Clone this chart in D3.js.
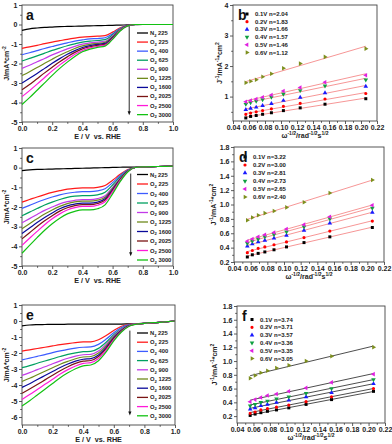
<!DOCTYPE html>
<html>
<head>
<meta charset="utf-8">
<script src="https://cdn.jsdelivr.net/npm/d3@7"></script>
<style>
  body { margin: 0; background: #fff; }
  svg { display: block; font-family: "Liberation Sans", Arial, sans-serif; }
</style>
</head>
<body>
<svg id="chart" width="392" height="444"></svg>
<script>
// ---------- data ----------
// potential grid (V vs. RHE) shared by the LSV curves
const E = [0, 0.05, 0.1, 0.15, 0.2, 0.25, 0.3, 0.35, 0.4, 0.45, 0.5, 0.55, 0.6, 0.65, 0.7, 0.75, 0.8, 0.9, 1.0]

const gases = ['N', 'O', 'O', 'O', 'O', 'O', 'O', 'O', 'O', 'O']
const speeds = ['225', '225', '400', '625', '900', '1225', '1600', '2025', '2500', '3000']
const lsvColors = ['#000000', '#ff1a1a', '#3d5cff', '#00a060', '#c23ae8', '#6f8a1c', '#0a0a9a', '#7a1414', '#ff1ad9', '#12c212']

// panel a: N2 225, O2 225 ... O2 3000 (mA cm-2)
const curvesA = [
  [-0.30, -0.22, -0.18, -0.15, -0.13, -0.11, -0.10, -0.09, -0.08, -0.07, -0.06, -0.05, -0.04, -0.03, -0.02, -0.01, 0, 0, 0],
  [-1.22, -1.15, -1.07, -0.98, -0.90, -0.83, -0.76, -0.70, -0.65, -0.62, -0.60, -0.57, -0.39, -0.17, -0.04, 0, 0, 0, 0],
  [-1.55, -1.45, -1.34, -1.23, -1.13, -1.03, -0.94, -0.85, -0.79, -0.74, -0.72, -0.68, -0.47, -0.20, -0.04, 0, 0, 0, 0],
  [-1.87, -1.74, -1.61, -1.47, -1.33, -1.21, -1.09, -0.99, -0.90, -0.85, -0.82, -0.78, -0.53, -0.23, -0.05, 0, 0, 0, 0],
  [-2.25, -2.09, -1.91, -1.74, -1.56, -1.40, -1.25, -1.12, -1.01, -0.94, -0.90, -0.86, -0.59, -0.25, -0.05, 0, 0, 0, 0],
  [-2.62, -2.42, -2.21, -1.99, -1.78, -1.58, -1.40, -1.23, -1.10, -1.02, -0.97, -0.92, -0.63, -0.27, -0.06, 0, 0, 0, 0],
  [-3.00, -2.76, -2.51, -2.25, -1.99, -1.75, -1.53, -1.34, -1.18, -1.08, -1.02, -0.97, -0.66, -0.29, -0.06, 0, 0, 0, 0],
  [-3.35, -3.08, -2.78, -2.48, -2.19, -1.91, -1.66, -1.43, -1.25, -1.14, -1.07, -1.02, -0.70, -0.30, -0.06, 0, 0, 0, 0],
  [-3.70, -3.39, -3.06, -2.72, -2.38, -2.07, -1.79, -1.53, -1.33, -1.20, -1.12, -1.06, -0.73, -0.31, -0.07, 0, 0, 0, 0],
  [-4.10, -3.75, -3.37, -2.99, -2.61, -2.25, -1.93, -1.64, -1.40, -1.26, -1.17, -1.11, -0.76, -0.33, -0.07, 0, 0, 0, 0]
]

// panel c
const curvesC = [
  [-0.15, -0.11, -0.09, -0.08, -0.07, -0.06, -0.05, -0.04, -0.03, -0.02, -0.01, 0, 0.01, 0.02, 0.03, 0.03, 0.04, 0.06, 0.08],
  [-1.75, -1.62, -1.49, -1.37, -1.26, -1.17, -1.09, -1.05, -1.03, -1.03, -1.00, -0.91, -0.64, -0.34, -0.10, 0.01, 0.04, 0.06, 0.08],
  [-2.07, -1.92, -1.76, -1.62, -1.49, -1.38, -1.30, -1.25, -1.22, -1.22, -1.18, -1.07, -0.76, -0.40, -0.12, 0.01, 0.04, 0.06, 0.08],
  [-2.45, -2.26, -2.08, -1.90, -1.75, -1.62, -1.51, -1.45, -1.42, -1.42, -1.38, -1.25, -0.88, -0.47, -0.14, 0.01, 0.04, 0.06, 0.08],
  [-2.80, -2.59, -2.38, -2.17, -2.00, -1.84, -1.73, -1.66, -1.62, -1.62, -1.57, -1.43, -1.00, -0.53, -0.16, 0.01, 0.04, 0.06, 0.08],
  [-3.10, -2.85, -2.60, -2.36, -2.15, -1.97, -1.83, -1.74, -1.70, -1.70, -1.65, -1.50, -1.05, -0.56, -0.17, 0.01, 0.04, 0.06, 0.08],
  [-3.35, -3.07, -2.79, -2.53, -2.30, -2.09, -1.94, -1.85, -1.80, -1.80, -1.75, -1.58, -1.12, -0.59, -0.18, 0.01, 0.04, 0.06, 0.08],
  [-3.62, -3.31, -2.99, -2.70, -2.44, -2.21, -2.04, -1.93, -1.88, -1.88, -1.82, -1.65, -1.17, -0.62, -0.19, 0.01, 0.04, 0.06, 0.08],
  [-3.95, -3.59, -3.24, -2.90, -2.60, -2.35, -2.15, -2.03, -1.97, -1.97, -1.91, -1.73, -1.22, -0.65, -0.20, 0.01, 0.04, 0.06, 0.08],
  [-4.35, -3.95, -3.56, -3.18, -2.85, -2.57, -2.35, -2.22, -2.15, -2.15, -2.09, -1.89, -1.33, -0.71, -0.22, 0.01, 0.04, 0.06, 0.08]
]

// panel e
const curvesE = [
  [-0.30, -0.25, -0.23, -0.22, -0.21, -0.21, -0.20, -0.20, -0.20, -0.20, -0.20, -0.20, -0.19, -0.19, -0.18, -0.17, -0.14, -0.08, 0],
  [-1.88, -1.80, -1.72, -1.64, -1.56, -1.48, -1.41, -1.35, -1.31, -1.30, -1.17, -0.91, -0.59, -0.33, -0.21, -0.17, -0.15, -0.08, 0],
  [-2.43, -2.32, -2.21, -2.10, -1.98, -1.87, -1.77, -1.69, -1.64, -1.62, -1.46, -1.13, -0.73, -0.41, -0.23, -0.17, -0.15, -0.08, 0],
  [-2.92, -2.79, -2.64, -2.50, -2.36, -2.22, -2.09, -1.99, -1.92, -1.90, -1.71, -1.33, -0.86, -0.48, -0.25, -0.18, -0.15, -0.08, 0],
  [-3.40, -3.23, -3.04, -2.86, -2.67, -2.49, -2.33, -2.20, -2.11, -2.08, -1.87, -1.46, -0.94, -0.52, -0.27, -0.18, -0.15, -0.08, 0],
  [-3.78, -3.58, -3.36, -3.14, -2.92, -2.70, -2.52, -2.36, -2.25, -2.22, -2.00, -1.55, -1.00, -0.56, -0.28, -0.18, -0.15, -0.08, 0],
  [-4.15, -3.92, -3.66, -3.41, -3.16, -2.91, -2.69, -2.51, -2.39, -2.35, -2.12, -1.65, -1.06, -0.59, -0.29, -0.19, -0.15, -0.08, 0],
  [-4.52, -4.25, -3.97, -3.68, -3.39, -3.11, -2.86, -2.65, -2.51, -2.47, -2.22, -1.73, -1.11, -0.62, -0.30, -0.19, -0.15, -0.08, 0],
  [-4.90, -4.60, -4.28, -3.96, -3.64, -3.31, -3.04, -2.81, -2.65, -2.60, -2.34, -1.82, -1.17, -0.65, -0.31, -0.19, -0.15, -0.08, 0],
  [-5.31, -4.98, -4.62, -4.26, -3.90, -3.54, -3.24, -2.98, -2.80, -2.75, -2.48, -1.93, -1.24, -0.69, -0.33, -0.20, -0.15, -0.08, 0]
]

// Koutecky-Levich: omega^-1/2 for 3000 ... 225 rpm
const omegaX = [0.056, 0.062, 0.069, 0.077, 0.088, 0.103, 0.124, 0.155, 0.206]
const potentials = ['0.1V', '0.2V', '0.3V', '0.4V', '0.5V', '0.6V']
const klColors = ['#000000', '#ff0000', '#1a1aff', '#10a040', '#e020e0', '#7d8f1e']

const klB = [
  [0.30, 0.35, 0.38, 0.42, 0.47, 0.54, 0.63, 0.75, 0.93],
  [0.42, 0.46, 0.50, 0.54, 0.60, 0.68, 0.78, 0.92, 1.10],
  [0.57, 0.61, 0.65, 0.70, 0.77, 0.87, 0.97, 1.12, 1.33],
  [0.75, 0.80, 0.85, 0.90, 0.98, 1.08, 1.20, 1.35, 1.55],
  [0.83, 0.87, 0.92, 0.98, 1.05, 1.18, 1.30, 1.47, 1.70],
  [1.45, 1.50, 1.55, 1.65, 1.75, 1.93, 2.08, 2.30, 2.57]
]
const nB = ['2.04', '1.83', '1.66', '1.57', '1.46', '1.12']

const klD = [
  [0.27, 0.30, 0.32, 0.34, 0.37, 0.41, 0.47, 0.55, 0.68],
  [0.33, 0.36, 0.39, 0.41, 0.44, 0.48, 0.54, 0.63, 0.77],
  [0.42, 0.45, 0.48, 0.50, 0.53, 0.57, 0.64, 0.74, 0.89],
  [0.46, 0.49, 0.52, 0.55, 0.58, 0.62, 0.69, 0.80, 0.95],
  [0.49, 0.52, 0.55, 0.58, 0.61, 0.66, 0.72, 0.83, 0.99],
  [0.78, 0.82, 0.85, 0.88, 0.91, 0.96, 1.03, 1.16, 1.34]
]
const nD = ['3.22', '3.00', '2.81', '2.73', '2.65', '2.40']

const klF = [
  [0.21, 0.23, 0.25, 0.27, 0.29, 0.32, 0.37, 0.44, 0.56],
  [0.24, 0.26, 0.29, 0.31, 0.33, 0.36, 0.41, 0.48, 0.60],
  [0.30, 0.32, 0.35, 0.37, 0.40, 0.43, 0.48, 0.54, 0.67],
  [0.35, 0.37, 0.40, 0.42, 0.45, 0.48, 0.53, 0.60, 0.73],
  [0.41, 0.44, 0.47, 0.50, 0.52, 0.56, 0.61, 0.69, 0.81],
  [0.75, 0.79, 0.83, 0.86, 0.90, 0.94, 1.00, 1.07, 1.20]
]
const nF = ['3.74', '3.71', '3.57', '3.36', '3.35', '3.05']

// tick values
const lsvXTicks = [0, 0.2, 0.4, 0.6, 0.8, 1.0]
const lsvXMinor = [0.1, 0.3, 0.5, 0.7, 0.9]
const lsvYTicks = [-5, -4, -3, -2, -1, 0, 1]
const lsvYTicksE = [-6, -5, -4, -3, -2, -1, 0, 1]
const klXTicks = [0.04, 0.06, 0.08, 0.10, 0.12, 0.14, 0.16, 0.18, 0.20, 0.22]
const klXMinor = [0.05, 0.07, 0.09, 0.11, 0.13, 0.15, 0.17, 0.19, 0.21]
const klYTicksB = [1, 2, 3, 4]
const klYTicksDF = [0.2, 0.4, 0.6, 0.8, 1.0, 1.2, 1.4, 1.6, 1.8]

// ---------- drawing ----------
const svg = d3.select('#chart')
const FONT = '"Liberation Sans", Arial, sans-serif'
const INK = '#222'

// text with sub/superscripts: parts = [[text, 'sup' | 'sub' | null], ...]
function rich(sel, parts, size) {
  let shift = 0
  parts.forEach(([t, k]) => {
    const target = k === 'sup' ? -size * 0.4 : k === 'sub' ? size * 0.3 : 0
    sel.append('tspan')
      .attr('dy', target - shift)
      .attr('font-size', k ? size * 0.72 : size)
      .text(t)
    shift = target
  })
}

function axesBox(x, y, xt, xMinor, yt, yMinor, xFmt, yFmt) {
  const [x0, x1] = x.range()
  const [y0, y1] = y.range()
  const g = svg.append('g')
  g.append('g').attr('transform', `translate(0,${y0})`)
    .call(d3.axisBottom(x).tickValues(xMinor).tickSize(1.8).tickFormat(''))
  g.append('g').attr('transform', `translate(0,${y0})`)
    .call(d3.axisBottom(x).tickValues(xt).tickSize(3).tickPadding(1.5).tickFormat(xFmt))
  g.append('g').attr('transform', `translate(${x0},0)`)
    .call(d3.axisLeft(y).tickValues(yMinor).tickSize(1.8).tickFormat(''))
  g.append('g').attr('transform', `translate(${x0},0)`)
    .call(d3.axisLeft(y).tickValues(yt).tickSize(3).tickPadding(1.5).tickFormat(yFmt))
  g.selectAll('.domain').remove()
  g.selectAll('.tick line').attr('stroke', '#333').attr('stroke-width', 0.8)
  g.selectAll('g').attr('font-family', FONT).attr('font-size', 7)
  g.selectAll('text').attr('font-weight', 'bold').attr('fill', INK)
  g.append('rect')
    .attr('x', x0).attr('y', y1)
    .attr('width', x1 - x0).attr('height', y0 - y1)
    .attr('fill', 'none').attr('stroke', '#444').attr('stroke-width', 0.9)
}

function panelLetter(x, y, t) {
  svg.append('text').attr('x', x).attr('y', y)
    .attr('font-family', FONT).attr('font-size', 14).attr('font-weight', 'bold')
    .attr('fill', '#111').text(t)
}

function drawLSV(p) {
  const x = d3.scaleLinear().domain([0, 1]).range([p.left, p.right])
  const y = d3.scaleLinear().domain(p.yDomain).range([p.bottom, p.top])
  const minorY = p.yTicks.slice(1).map(v => v - 0.5)
  axesBox(x, y, lsvXTicks, lsvXMinor, p.yTicks, minorY, d => d.toFixed(1), d => d.toFixed(0))

  const line = d3.line().x((d, i) => x(E[i])).y(d => y(d)).curve(d3.curveMonotoneX)
  const g = svg.append('g')
  p.curves.forEach((vals, i) => {
    g.append('path').datum(vals)
      .attr('d', line)
      .attr('fill', 'none')
      .attr('stroke', lsvColors[i])
      .attr('stroke-width', 1.2)
  })

  // arrow showing increasing rotation rate
  const ax = x(p.arrow[0])
  svg.append('line')
    .attr('x1', ax).attr('x2', ax)
    .attr('y1', y(p.arrow[1])).attr('y2', y(p.arrow[2]) - 3)
    .attr('stroke', '#111').attr('stroke-width', 0.9)
  svg.append('path')
    .attr('d', `M${ax - 1.6},${y(p.arrow[2]) - 4}L${ax + 1.6},${y(p.arrow[2]) - 4}L${ax},${y(p.arrow[2])}Z`)
    .attr('fill', '#111')

  // legend
  const lg = svg.append('g').attr('font-family', FONT)
  speeds.forEach((s, i) => {
    const ly = p.legY + i * p.legDy
    lg.append('line')
      .attr('x1', p.legX).attr('x2', p.legX + 11)
      .attr('y1', ly).attr('y2', ly)
      .attr('stroke', lsvColors[i]).attr('stroke-width', 1.3)
    const t = lg.append('text')
      .attr('x', p.legX + 13).attr('y', ly + 2)
      .attr('font-weight', 'bold').attr('fill', INK)
    rich(t, [[gases[i], null], ['2', 'sub'], [' ' + s, null]], 5.8)
  })

  // axis titles
  svg.append('text')
    .attr('x', (p.left + p.right) / 2).attr('y', p.bottom + 17)
    .attr('text-anchor', 'middle')
    .attr('font-family', FONT).attr('font-size', 7.2).attr('font-weight', 'bold').attr('fill', INK)
    .attr('xml:space', 'preserve')
    .text('E / V  vs. RHE')
  const yt = svg.append('text')
    .attr('transform', `translate(${p.left - 13},${(p.top + p.bottom) / 2}) rotate(-90)`)
    .attr('text-anchor', 'middle')
    .attr('font-family', FONT).attr('font-weight', 'bold').attr('fill', INK)
  rich(yt, [['J/mA*cm', null], ['-2', 'sup']], 7)

  panelLetter(p.left + 4, p.top + 15, p.letter)
}

// least-squares line through the points of one series
function fit(xs, ys) {
  const mx = d3.mean(xs), my = d3.mean(ys)
  const sxy = d3.sum(xs, (v, i) => (v - mx) * (ys[i] - my))
  const sxx = d3.sum(xs, v => (v - mx) * (v - mx))
  const k = sxy / sxx
  return v => my + k * (v - mx)
}

const symbols = [
  { type: d3.symbolSquare, rot: 0 },
  { type: d3.symbolCircle, rot: 0 },
  { type: d3.symbolTriangle, rot: 0 },
  { type: d3.symbolTriangle, rot: 180 },
  { type: d3.symbolTriangle, rot: -90 },
  { type: d3.symbolTriangle, rot: 90 }
]

function marker(g, cx, cy, i) {
  g.append('path')
    .attr('d', d3.symbol().type(symbols[i].type).size(i === 1 ? 8 : 9)())
    .attr('transform', `translate(${cx},${cy}) rotate(${symbols[i].rot})`)
    .attr('fill', klColors[i])
}

function drawKL(p) {
  const x = d3.scaleLinear().domain([0.04, 0.22]).range([p.left, p.right])
  const y = d3.scaleLinear().domain(p.yDomain).range([p.bottom, p.top])
  axesBox(x, y, klXTicks, klXMinor, p.yTicks, p.yMinor, d => d.toFixed(2), p.yFmt)

  const g = svg.append('g')
  p.series.forEach((vals, i) => {
    const f = fit(omegaX, vals)
    const xs = [omegaX[0], omegaX[omegaX.length - 1]]
    g.append('line')
      .attr('x1', x(xs[0])).attr('y1', y(f(xs[0])))
      .attr('x2', x(xs[1])).attr('y2', y(f(xs[1])))
      .attr('stroke', p.fitColor).attr('stroke-width', 0.9)
  })
  p.series.forEach((vals, i) => {
    vals.forEach((v, j) => marker(g, x(omegaX[j]), y(v), i))
  })

  // legend
  const lg = svg.append('g').attr('font-family', FONT)
  potentials.forEach((pt, i) => {
    const ly = p.legY + i * p.legDy
    marker(lg, p.legX, ly, i)
    lg.append('text')
      .attr('x', p.legX + 8).attr('y', ly + 2)
      .attr('font-size', 6).attr('font-weight', 'bold').attr('fill', INK)
      .text(`${pt} n=${p.n[i]}`)
  })

  const xt = svg.append('text')
    .attr('x', (p.left + p.right) / 2).attr('y', p.bottom + 17)
    .attr('text-anchor', 'middle')
    .attr('font-family', FONT).attr('font-weight', 'bold').attr('fill', INK)
  rich(xt, [['\u03c9', null], ['-1/2', 'sup'], ['/rad', null], ['-1/2', 'sup'], ['s', null], ['1/2', 'sup']], 7)

  const yt = svg.append('text')
    .attr('transform', `translate(${p.yTitleX},${(p.top + p.bottom) / 2}) rotate(-90)`)
    .attr('text-anchor', 'middle')
    .attr('font-family', FONT).attr('font-weight', 'bold').attr('fill', INK)
  rich(yt, [['J', null], ['-1', 'sup'], ['/mA', null], ['-1', 'sup'], ['*cm', null], ['2', 'sup']], 7)

  panelLetter(p.left + 5, p.top + 15, p.letter)
}

drawLSV({ letter: 'a', left: 22, right: 173, top: 5, bottom: 122, yDomain: [-5, 1], yTicks: lsvYTicks,
  curves: curvesA, arrow: [0.71, -0.08, -4.65], legX: 137, legY: 33, legDy: 9.07 })
drawLSV({ letter: 'c', left: 22, right: 173, top: 148, bottom: 266, yDomain: [-5, 1], yTicks: lsvYTicks,
  curves: curvesC, arrow: [0.72, -0.3, -4.5], legX: 137, legY: 174.5, legDy: 9.5 })
drawLSV({ letter: 'e', left: 22, right: 175, top: 305, bottom: 425, yDomain: [-6.5, 1], yTicks: lsvYTicksE,
  curves: curvesE, arrow: [0.705, -0.6, -5.9], legX: 137, legY: 333, legDy: 9.2 })

const minorDF = [0.3, 0.5, 0.7, 0.9, 1.1, 1.3, 1.5, 1.7]
drawKL({ letter: 'b', left: 233, right: 377, top: 5, bottom: 121, yDomain: [0.2, 4], yTicks: klYTicksB,
  yMinor: [0.5, 1.5, 2.5, 3.5], yFmt: d => d.toFixed(0), series: klB, n: nB, fitColor: '#f58a8a',
  legX: 247, legY: 14, legDy: 7.7, yTitleX: 222 })
drawKL({ letter: 'd', left: 234, right: 384, top: 147, bottom: 262, yDomain: [0.2, 1.8], yTicks: klYTicksDF,
  yMinor: minorDF, yFmt: d => d.toFixed(1), series: klD, n: nD, fitColor: '#f58a8a',
  legX: 245, legY: 157, legDy: 8, yTitleX: 216 })
drawKL({ letter: 'f', left: 237, right: 385, top: 306, bottom: 423, yDomain: [0.1, 1.8], yTicks: klYTicksDF,
  yMinor: minorDF, yFmt: d => d.toFixed(1), series: klF, n: nF, fitColor: '#3a3a3a',
  legX: 252, legY: 319.5, legDy: 7.8, yTitleX: 217 })
</script>
</body>
</html>
